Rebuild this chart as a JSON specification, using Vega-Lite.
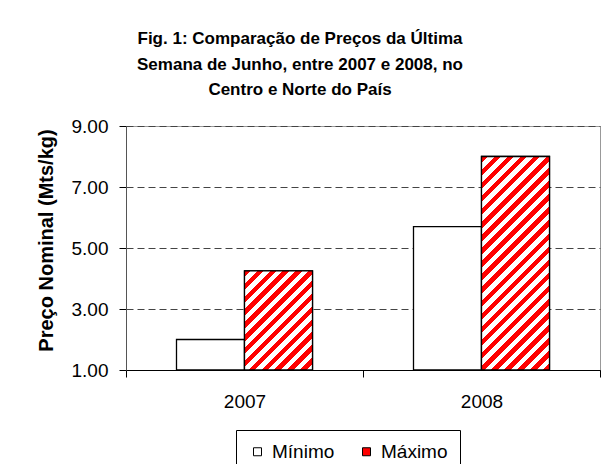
{
  "$schema": "https://vega.github.io/schema/vega-lite/v6.json",
  "autosize": {"type": "none"},
  "width": 474,
  "height": 244,
  "padding": {"left": 126, "top": 126, "right": 1, "bottom": 94},
  "background": "white",
  "title": {
    "text": ["Fig. 1: Comparação de Preços da Última", "Semana de Junho, entre 2007 e 2008, no", "Centro e Norte do País"],
    "font": "Liberation Sans",
    "fontSize": 17,
    "fontWeight": "bold",
    "color": "black",
    "lineHeight": 25.5,
    "anchor": "middle",
    "dx": -63,
    "offset": 18
  },
  "data": {
    "values": [
      {"ano": "2007", "serie": "Mínimo", "valor": 2.0},
      {"ano": "2007", "serie": "Máximo", "valor": 4.25},
      {"ano": "2008", "serie": "Mínimo", "valor": 5.7},
      {"ano": "2008", "serie": "Máximo", "valor": 8.0}
    ]
  },
  "encoding": {
    "x": {
      "field": "ano", "type": "nominal",
      "scale": {"paddingInner": 0, "paddingOuter": 0},
      "axis": {
        "title": null, "labelAngle": 0, "tickBand": "extent",
        "labelFont": "Liberation Sans", "labelFontSize": 19, "labelColor": "black",
        "domainColor": "black", "tickColor": "black", "tickSize": 7, "labelPadding": 15
      }
    },
    "xOffset": {"field": "serie", "type": "nominal", "scale": {"domain": ["Mínimo", "Máximo"], "paddingInner": 0, "paddingOuter": 0.7426}},
    "y": {
      "field": "valor", "type": "quantitative",
      "scale": {"domain": [1, 9], "nice": false, "zero": false},
      "axis": {
        "title": "Preço Nominal (Mts/kg)",
        "titleFont": "Liberation Sans", "titleFontSize": 20, "titleFontWeight": "bold", "titleColor": "black", "titlePadding": 15,
        "titleY": 114,
        "values": [1, 3, 5, 7, 9], "format": ".2f",
        "labelFont": "Liberation Sans", "labelFontSize": 19, "labelColor": "black", "labelPadding": 11,
        "tickSize": 7, "tickColor": "black", "domainColor": "#555",
        "grid": true, "gridDash": [7, 4], "gridColor": "#444", "gridWidth": 1
      }
    },
    "y2": {"datum": 1}
  },
  "layer": [
    {
      "mark": {"type": "bar", "stroke": "black", "strokeWidth": 1.3},
      "encoding": {
        "color": {
          "field": "serie", "type": "nominal",
          "scale": {"domain": ["Mínimo", "Máximo"], "range": ["#ffffff", "#ff0000"]},
          "legend": {
            "title": null, "orient": "none", "legendX": 110, "legendY": 304,
            "direction": "horizontal", "symbolType": "square", "symbolSize": 64,
            "symbolStrokeColor": "black", "symbolStrokeWidth": 1,
            "labelFont": "Liberation Sans", "labelFontSize": 19, "labelColor": "black",
            "labelOffset": 5, "columnPadding": 22, "padding": 12,
            "strokeColor": "black", "fillColor": "white",
            "encode": {
              "symbols": {
                "update": {
                  "stroke": {"value": "black"},
                  "strokeWidth": {"value": 1},
                  "fill": [
                    {"test": "datum.value === 'Máximo'", "value": {"gradient": "linear", "x1": 0, "y1": 0, "x2": 1, "y2": 1, "stops": [
                      {"offset": 0, "color": "#ff0000"}, {"offset": 0.4, "color": "#ff0000"},
                      {"offset": 0.4, "color": "#ffffff"}, {"offset": 0.65, "color": "#ffffff"},
                      {"offset": 0.65, "color": "#ff0000"}, {"offset": 1, "color": "#ff0000"}
                    ]}},
                    {"value": "#ffffff"}
                  ]
                }
              }
            }
          }
        }
      }
    },
    {
      "transform": [{"filter": "datum.ano === '2008' && datum.serie === 'Máximo'"}],
      "mark": {
        "type": "bar", "stroke": "black", "strokeWidth": 1.3,
        "fill": {"gradient": "linear", "x1": 0, "y1": 0, "x2": 0.3813, "y2": 1.1971, "stops": [
          {"offset": 0, "color": "#ff0000"}, {"offset": 0.0233, "color": "#ff0000"},
          {"offset": 0.0233, "color": "#ffffff"}, {"offset": 0.0465, "color": "#ffffff"},
          {"offset": 0.0465, "color": "#ff0000"}, {"offset": 0.0698, "color": "#ff0000"},
          {"offset": 0.0698, "color": "#ffffff"}, {"offset": 0.093, "color": "#ffffff"},
          {"offset": 0.093, "color": "#ff0000"}, {"offset": 0.1163, "color": "#ff0000"},
          {"offset": 0.1163, "color": "#ffffff"}, {"offset": 0.1395, "color": "#ffffff"},
          {"offset": 0.1395, "color": "#ff0000"}, {"offset": 0.1628, "color": "#ff0000"},
          {"offset": 0.1628, "color": "#ffffff"}, {"offset": 0.186, "color": "#ffffff"},
          {"offset": 0.186, "color": "#ff0000"}, {"offset": 0.2093, "color": "#ff0000"},
          {"offset": 0.2093, "color": "#ffffff"}, {"offset": 0.2326, "color": "#ffffff"},
          {"offset": 0.2326, "color": "#ff0000"}, {"offset": 0.2558, "color": "#ff0000"},
          {"offset": 0.2558, "color": "#ffffff"}, {"offset": 0.2791, "color": "#ffffff"},
          {"offset": 0.2791, "color": "#ff0000"}, {"offset": 0.3023, "color": "#ff0000"},
          {"offset": 0.3023, "color": "#ffffff"}, {"offset": 0.3256, "color": "#ffffff"},
          {"offset": 0.3256, "color": "#ff0000"}, {"offset": 0.3488, "color": "#ff0000"},
          {"offset": 0.3488, "color": "#ffffff"}, {"offset": 0.3721, "color": "#ffffff"},
          {"offset": 0.3721, "color": "#ff0000"}, {"offset": 0.3953, "color": "#ff0000"},
          {"offset": 0.3953, "color": "#ffffff"}, {"offset": 0.4186, "color": "#ffffff"},
          {"offset": 0.4186, "color": "#ff0000"}, {"offset": 0.4419, "color": "#ff0000"},
          {"offset": 0.4419, "color": "#ffffff"}, {"offset": 0.4651, "color": "#ffffff"},
          {"offset": 0.4651, "color": "#ff0000"}, {"offset": 0.4884, "color": "#ff0000"},
          {"offset": 0.4884, "color": "#ffffff"}, {"offset": 0.5116, "color": "#ffffff"},
          {"offset": 0.5116, "color": "#ff0000"}, {"offset": 0.5349, "color": "#ff0000"},
          {"offset": 0.5349, "color": "#ffffff"}, {"offset": 0.5581, "color": "#ffffff"},
          {"offset": 0.5581, "color": "#ff0000"}, {"offset": 0.5814, "color": "#ff0000"},
          {"offset": 0.5814, "color": "#ffffff"}, {"offset": 0.6047, "color": "#ffffff"},
          {"offset": 0.6047, "color": "#ff0000"}, {"offset": 0.6279, "color": "#ff0000"},
          {"offset": 0.6279, "color": "#ffffff"}, {"offset": 0.6512, "color": "#ffffff"},
          {"offset": 0.6512, "color": "#ff0000"}, {"offset": 0.6744, "color": "#ff0000"},
          {"offset": 0.6744, "color": "#ffffff"}, {"offset": 0.6977, "color": "#ffffff"},
          {"offset": 0.6977, "color": "#ff0000"}, {"offset": 0.7209, "color": "#ff0000"},
          {"offset": 0.7209, "color": "#ffffff"}, {"offset": 0.7442, "color": "#ffffff"},
          {"offset": 0.7442, "color": "#ff0000"}, {"offset": 0.7674, "color": "#ff0000"},
          {"offset": 0.7674, "color": "#ffffff"}, {"offset": 0.7907, "color": "#ffffff"},
          {"offset": 0.7907, "color": "#ff0000"}, {"offset": 0.814, "color": "#ff0000"},
          {"offset": 0.814, "color": "#ffffff"}, {"offset": 0.8372, "color": "#ffffff"},
          {"offset": 0.8372, "color": "#ff0000"}, {"offset": 0.8605, "color": "#ff0000"},
          {"offset": 0.8605, "color": "#ffffff"}, {"offset": 0.8837, "color": "#ffffff"},
          {"offset": 0.8837, "color": "#ff0000"}, {"offset": 0.907, "color": "#ff0000"},
          {"offset": 0.907, "color": "#ffffff"}, {"offset": 0.9302, "color": "#ffffff"},
          {"offset": 0.9302, "color": "#ff0000"}, {"offset": 0.9535, "color": "#ff0000"},
          {"offset": 0.9535, "color": "#ffffff"}, {"offset": 0.9767, "color": "#ffffff"},
          {"offset": 0.9767, "color": "#ff0000"}, {"offset": 1, "color": "#ff0000"}
        ]}
      }
    },
    {
      "transform": [{"filter": "datum.ano === '2007' && datum.serie === 'Máximo'"}],
      "mark": {
        "type": "bar", "stroke": "black", "strokeWidth": 1.3,
        "fill": {"gradient": "linear", "x1": 0, "y1": 0, "x2": 0.7866, "y2": 1.1464, "stops": [
          {"offset": 0, "color": "#ff0000"}, {"offset": 0.0385, "color": "#ff0000"},
          {"offset": 0.0385, "color": "#ffffff"}, {"offset": 0.0769, "color": "#ffffff"},
          {"offset": 0.0769, "color": "#ff0000"}, {"offset": 0.1154, "color": "#ff0000"},
          {"offset": 0.1154, "color": "#ffffff"}, {"offset": 0.1538, "color": "#ffffff"},
          {"offset": 0.1538, "color": "#ff0000"}, {"offset": 0.1923, "color": "#ff0000"},
          {"offset": 0.1923, "color": "#ffffff"}, {"offset": 0.2308, "color": "#ffffff"},
          {"offset": 0.2308, "color": "#ff0000"}, {"offset": 0.2692, "color": "#ff0000"},
          {"offset": 0.2692, "color": "#ffffff"}, {"offset": 0.3077, "color": "#ffffff"},
          {"offset": 0.3077, "color": "#ff0000"}, {"offset": 0.3462, "color": "#ff0000"},
          {"offset": 0.3462, "color": "#ffffff"}, {"offset": 0.3846, "color": "#ffffff"},
          {"offset": 0.3846, "color": "#ff0000"}, {"offset": 0.4231, "color": "#ff0000"},
          {"offset": 0.4231, "color": "#ffffff"}, {"offset": 0.4615, "color": "#ffffff"},
          {"offset": 0.4615, "color": "#ff0000"}, {"offset": 0.5, "color": "#ff0000"},
          {"offset": 0.5, "color": "#ffffff"}, {"offset": 0.5385, "color": "#ffffff"},
          {"offset": 0.5385, "color": "#ff0000"}, {"offset": 0.5769, "color": "#ff0000"},
          {"offset": 0.5769, "color": "#ffffff"}, {"offset": 0.6154, "color": "#ffffff"},
          {"offset": 0.6154, "color": "#ff0000"}, {"offset": 0.6538, "color": "#ff0000"},
          {"offset": 0.6538, "color": "#ffffff"}, {"offset": 0.6923, "color": "#ffffff"},
          {"offset": 0.6923, "color": "#ff0000"}, {"offset": 0.7308, "color": "#ff0000"},
          {"offset": 0.7308, "color": "#ffffff"}, {"offset": 0.7692, "color": "#ffffff"},
          {"offset": 0.7692, "color": "#ff0000"}, {"offset": 0.8077, "color": "#ff0000"},
          {"offset": 0.8077, "color": "#ffffff"}, {"offset": 0.8462, "color": "#ffffff"},
          {"offset": 0.8462, "color": "#ff0000"}, {"offset": 0.8846, "color": "#ff0000"},
          {"offset": 0.8846, "color": "#ffffff"}, {"offset": 0.9231, "color": "#ffffff"},
          {"offset": 0.9231, "color": "#ff0000"}, {"offset": 0.9615, "color": "#ff0000"},
          {"offset": 0.9615, "color": "#ffffff"}, {"offset": 1, "color": "#ffffff"}
        ]}
      }
    }
  ],
  "config": {
    "font": "Liberation Sans",
    "view": {"stroke": "#999", "strokeWidth": 1}
  }
}
